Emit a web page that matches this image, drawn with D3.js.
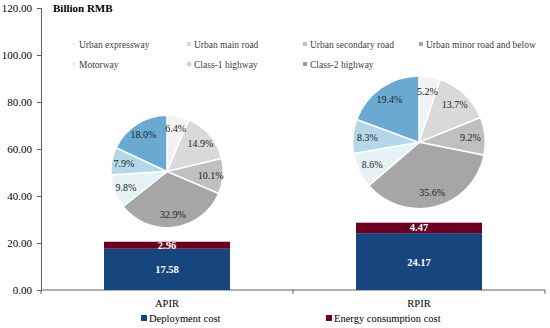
<!DOCTYPE html>
<html>
<head>
<meta charset="utf-8">
<script src="https://cdn.jsdelivr.net/npm/d3@7"></script>
<style>
  body { margin: 0; background: #fff; }
  svg { display: block; font-family: "Liberation Serif", "Times New Roman", serif; }
  svg text { font-family: "Liberation Serif", "Times New Roman", serif; }
</style>
</head>
<body>
<div id="chart"></div>
<script>
// data
const schemes = ['APIR', 'RPIR'];
const deploymentCost = [17.58, 24.17];
const energyCost = [2.96, 4.47];
const yTicks = [0, 20, 40, 60, 80, 100, 120];

const roadTypes = ['Urban expressway', 'Urban main road', 'Urban secondary road',
	'Urban minor road and below', 'Motorway', 'Class-1 highway', 'Class-2 highway'];
const apirShares = [6.4, 14.9, 10.1, 32.9, 9.8, 7.9, 18.0];
const rpirShares = [5.2, 13.7, 9.2, 35.6, 8.6, 8.3, 19.4];
const roadColors = ['#f2f2f2', '#d9d9d9', '#bfbfbf', '#a6a6a6', '#e6f2f6', '#b3d8e9', '#6aaad1'];

const width = 550;
const height = 328;
const margin = { top: 8, right: 5, bottom: 38, left: 41 };
const innerW = width - margin.left - margin.right;
const innerH = height - margin.top - margin.bottom;
const axisColor = '#606060';

const svg = d3.select('#chart').append('svg')
	.attr('width', width)
	.attr('height', height);

const g = svg.append('g')
	.attr('transform', `translate(${margin.left},${margin.top})`);

const x = d3.scaleBand().domain(schemes).range([0, innerW]);
const y = d3.scaleLinear().domain([0, 120]).range([innerH, 0]);

// y axis
const yAxis = d3.axisLeft(y).tickValues(yTicks).tickFormat(d3.format('.2f')).tickSizeOuter(0).tickSize(4);
g.append('g')
	.call(yAxis)
	.call(a => a.select('.domain').attr('stroke', axisColor))
	.call(a => a.selectAll('.tick line').attr('stroke', axisColor))
	.call(a => a.selectAll('.tick text')
		.attr('font-family', '"Liberation Serif", serif')
		.attr('font-size', 11)
		.attr('fill', '#000')
		.attr('x', -9));

// x axis with ticks at band edges
const xAxisG = g.append('g').attr('transform', `translate(0,${innerH})`);
xAxisG.append('line')
	.attr('x1', 0).attr('x2', innerW)
	.attr('stroke', axisColor);
xAxisG.selectAll('.edge')
	.data([0, ...schemes.map(s => x(s) + x.bandwidth())])
	.join('line')
	.attr('x1', d => d).attr('x2', d => d)
	.attr('y1', 0).attr('y2', 4)
	.attr('stroke', axisColor);
xAxisG.selectAll('.cat')
	.data(schemes)
	.join('text')
	.attr('x', d => x(d) + x.bandwidth() / 2)
	.attr('y', 17)
	.attr('text-anchor', 'middle')
	.attr('font-size', 10.5)
	.text(d => d);

// stacked bars
const barW = x.bandwidth() * 0.5;
const bars = g.append('g');
schemes.forEach((s, i) => {
	const bx = x(s) + (x.bandwidth() - barW) / 2;
	const d0 = deploymentCost[i];
	const d1 = d0 + energyCost[i];
	bars.append('rect')
		.attr('x', bx).attr('width', barW)
		.attr('y', y(d0)).attr('height', y(0) - y(d0))
		.attr('fill', '#17467f');
	bars.append('rect')
		.attr('x', bx).attr('width', barW)
		.attr('y', y(d1)).attr('height', y(d0) - y(d1))
		.attr('fill', '#6b0020');
	bars.append('text')
		.attr('x', bx + barW / 2)
		.attr('y', (y(d0) + y(0)) / 2 + 4)
		.attr('text-anchor', 'middle')
		.attr('fill', '#fff')
		.attr('font-weight', 'bold')
		.attr('font-size', 10.5)
		.text(d0.toFixed(2));
	bars.append('text')
		.attr('x', bx + barW / 2)
		.attr('y', (y(d0) + y(d1)) / 2 + 3.5)
		.attr('text-anchor', 'middle')
		.attr('fill', '#fff')
		.attr('font-weight', 'bold')
		.attr('font-size', 10.5)
		.text(energyCost[i].toFixed(2));
});

// pies: area proportional to total cost
const shares = [apirShares, rpirShares];
const pie = d3.pie().sort(null).value(d => d);
schemes.forEach((s, i) => {
	const total = deploymentCost[i] + energyCost[i];
	const r = 12.4 * Math.sqrt(total);
	const cx = x(s) + x.bandwidth() / 2;
	const cy = y(total) - 14 - r;
	const arc = d3.arc().innerRadius(0).outerRadius(r);
	const labelArc = d3.arc().innerRadius(r * 0.78).outerRadius(r * 0.78);
	const pg = g.append('g').attr('transform', `translate(${cx},${cy})`);
	const arcs = pie(shares[i]);
	pg.selectAll('path')
		.data(arcs)
		.join('path')
		.attr('d', arc)
		.attr('fill', (d, j) => roadColors[j])
		.attr('stroke', '#fff')
		.attr('stroke-width', 1.5);
	pg.selectAll('text')
		.data(arcs)
		.join('text')
		.attr('transform', d => `translate(${labelArc.centroid(d)})`)
		.attr('text-anchor', 'middle')
		.attr('dy', '0.35em')
		.attr('font-size', 10)
		.attr('fill', '#222')
		.text(d => d.data.toFixed(1) + '%');
});

// pie legend
const legCols = [74, 189, 305, 421];
const legend = svg.append('g');
roadTypes.forEach((name, j) => {
	const lx = legCols[j % 4];
	const ly = 44 + Math.floor(j / 4) * 20;
	legend.append('rect')
		.attr('x', lx - 2).attr('y', ly - 2)
		.attr('width', 4).attr('height', 4)
		.attr('fill', roadColors[j]);
	legend.append('text')
		.attr('x', lx + 5).attr('y', ly + 3.5)
		.attr('font-size', 9.5)
		.attr('fill', '#404040')
		.text(name);
});

// unit title
svg.append('text')
	.attr('x', 53).attr('y', 12)
	.attr('font-weight', 'bold')
	.attr('font-size', 11)
	.text('Billion RMB');

// bar legend
const barLegend = [['Deployment cost', '#17467f', 142], ['Energy consumption cost', '#6b0020', 327]];
barLegend.forEach(([name, color, lx]) => {
	svg.append('rect')
		.attr('x', lx - 1).attr('y', 315)
		.attr('width', 6).attr('height', 6)
		.attr('fill', color);
	svg.append('text')
		.attr('x', lx + 7).attr('y', 322)
		.attr('font-size', 10.5)
		.text(name);
});
</script>
</body>
</html>
